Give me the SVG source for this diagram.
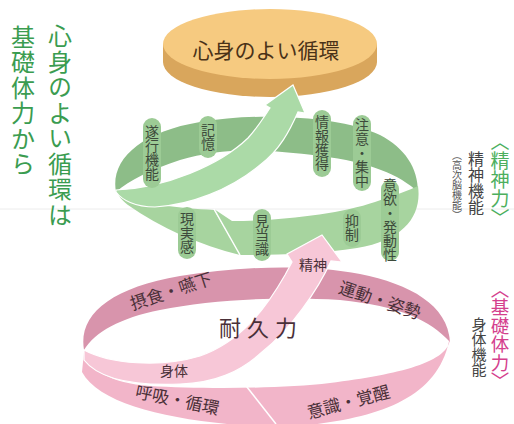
<svg xmlns="http://www.w3.org/2000/svg" width="514" height="424" viewBox="0 0 514 424">
<style>
.vt{writing-mode:vertical-rl;font-family:"Noto Sans CJK JP","Noto Sans CJK SC",sans-serif;text-anchor:middle}
.title{fill:#3a9c50;font-size:24px;letter-spacing:1.5px}
.pill{fill:#9ccb95}
.gl{fill:#3d4a3b;font-size:14px}
.pk{font-family:"Noto Sans CJK JP","Noto Sans CJK SC",sans-serif;fill:#4a3038;text-anchor:middle}
.wl{stroke:#ffffff;stroke-width:1.5;fill:none}
</style>
<rect width="514" height="424" fill="#ffffff"/>
<line x1="0" y1="209" x2="514" y2="209" stroke="#ececec" stroke-width="1"/>

<g id="title-left">
<text class="vt title" x="60" y="126">心身のよい循環は</text>
<text class="vt title" x="23" y="101">基礎体力から</text>
</g>

<g id="goal">
<path d="M163,44 L163,62 A107,35 0 0 0 377,62 L377,44 Z" fill="#d9a65c"/>
<ellipse cx="270" cy="44" rx="107" ry="35" fill="#f6ca80"/>
<text x="266" y="58" font-family="'Noto Sans CJK JP',sans-serif" font-size="21" fill="#4a3218" text-anchor="middle">心身のよい循環</text>
</g>

<g id="mental-ring">
<path id="g-back" d="M116,192 C110,160 140,132 200,122 C260,112 340,116 380,135 C405,148 418,168 418,192 C400,175 370,162 320,156 C260,148 220,148 180,160 C150,170 130,180 116,192 Z" fill="#8dbd88"/>
<path id="g-front-right" d="M418,186 C422,215 405,240 357,248 C320,254 270,255 240,255 L214,209 L232,221 C280,221 340,214 375,202 C395,195 410,190 418,186 Z" fill="#a7d49f"/>
<path id="g-front-left" d="M118,192 C140,205 180,208 214,210 L240,255 C200,245 160,228 128,205 C122,200 118,196 118,192 Z" fill="#a7d49f"/>
<line class="wl" x1="214" y1="209" x2="240" y2="255"/>
<path id="g-arrow" d="M116,190 C165,188 220,165 248,138 C258,127 264,117 270,108 L265,105 L293,85 L305,113 L298,112 C290,130 280,150 260,165 C230,190 190,205 155,207 C135,207 122,200 116,192 Z" fill="#abdaa7" stroke="#ffffff" stroke-width="1.2"/>
</g>

<g id="mental-labels">
<rect class="pill" x="143" y="118" width="18" height="70" rx="9"/>
<text class="vt gl" x="152" y="153">遂行機能</text>
<rect class="pill" x="199" y="116" width="18" height="42" rx="9"/>
<text class="vt gl" x="208" y="137">記憶</text>
<rect class="pill" x="313" y="110" width="18" height="67" rx="9"/>
<text class="vt gl" x="322" y="143">情報獲得</text>
<rect class="pill" x="353" y="115" width="18" height="76" rx="9"/>
<text class="vt gl" x="362" y="153" font-size="13">注意・集中</text>
<rect class="pill" x="381" y="180" width="18" height="81" rx="9"/>
<text class="vt gl" x="390" y="220" font-size="13">意欲・発動性</text>
<rect class="pill" x="343" y="209" width="18" height="38" rx="9"/>
<text class="vt gl" x="352" y="228">抑制</text>
<rect class="pill" x="253" y="209" width="18" height="52" rx="9"/>
<text class="vt gl" x="262" y="235">見当識</text>
<rect class="pill" x="178" y="207" width="18" height="52" rx="9"/>
<text class="vt gl" x="187" y="233">現実感</text>
</g>

<g id="physical-ring">
<path id="p-back" d="M84,350 C78,315 110,288 180,276 C240,266 310,264 360,274 C410,284 448,305 450,342 C430,320 400,306 340,300 C280,296 210,300 160,310 C120,318 95,332 84,350 Z" fill="#d894ac"/>
<path id="p-front" d="M450,336 C452,362 400,374 330,383 C280,389 200,389 150,386 C110,383 90,370 84,352 L82,372 C100,405 170,420 250,426 L300,426 C380,418 440,398 450,336 Z" fill="#f2b5c9"/>
<line class="wl" x1="243" y1="382" x2="276" y2="424"/>
<path id="p-arrow" d="M84,350 C110,364 160,368 200,356 C240,342 265,310 285,275 L292,262 L287,254 L322,235 L342,262 L331,261 C318,290 290,330 262,352 C240,372 215,383 180,384 C130,386 98,378 84,360 Z" fill="#f7c7d7" stroke="#ffffff" stroke-width="1.2"/>
</g>

<g id="physical-labels">
<text class="pk" font-size="17" transform="translate(173,297) rotate(-18)">摂食・嚥下</text>
<text class="pk" font-size="17" transform="translate(378,306) rotate(18)">運動・姿勢</text>
<text class="pk" font-size="17" transform="translate(176,406) rotate(12)">呼吸・循環</text>
<text class="pk" font-size="17" transform="translate(350,408) rotate(-15)">意識・覚醒</text>
<text class="pk" font-size="22" letter-spacing="6" x="261" y="336">耐久力</text>
<text class="pk" font-size="14" x="174" y="376">身体</text>
<text class="pk" font-size="14" x="313" y="270">精神</text>
</g>

<g id="side-labels">
<text class="vt" x="500" y="180" font-size="19" fill="#4caf5e">〈精神力〉</text>
<text class="vt" x="476" y="183" font-size="16" fill="#444444">精神機能</text>
<text class="vt" x="457" y="185" font-size="10" fill="#555555">（高次脳機能）</text>
<text class="vt" x="500" y="335" font-size="18.5" fill="#d4408d">〈基礎体力〉</text>
<text class="vt" x="479" y="347" font-size="15" fill="#444444">身体機能</text>
</g>
</svg>
